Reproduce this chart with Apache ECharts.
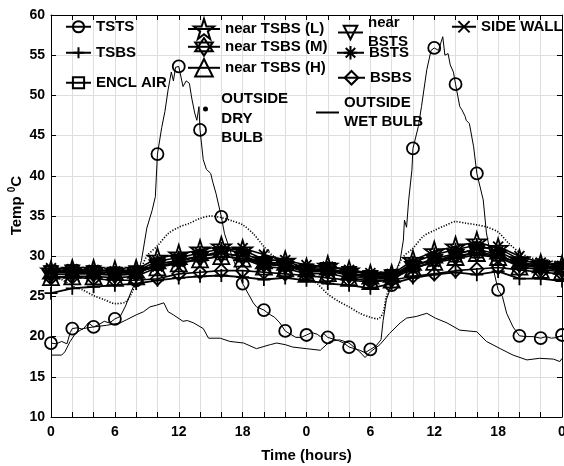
<!DOCTYPE html>
<html><head><meta charset="utf-8">
<script src="https://cdn.jsdelivr.net/npm/echarts@6/dist/echarts.min.js"></script>
<style>html,body{margin:0;padding:0;background:#fff}#c{width:564px;height:466px}</style>
</head><body><div id="c"></div>
<script>
// ---------- data ----------
const xTickLabels = ['0','6','12','18','0','6','12','18','0'];
const markerHours = [0,2,4,6,8,10,12,14,16,18,20,22,24,26,28,30,32,34,36,38,40,42,44,46,48];

const tstsHours = [0,0.5,1,1.5,1.8,2,2.5,3,3.5,4,
  4.5,5,5.5,6,6.5,7,7.5,8,8.5,9,
  9.5,9.8,10,10.4,10.7,11,11.3,11.5,11.7,12,
  12.4,12.7,13,13.2,13.5,13.7,13.9,14,14.3,14.6,
  15,15.2,15.5,16,16.3,16.6,17,17.5,18,18.5,
  19,19.3,20,20.5,21,21.5,22,22.5,23,23.5,
  24,24.5,25,25.3,25.6,26,26.5,27,27.5,28,
  28.5,29,29.5,30,30.5,31,31.2,31.5,32,32.5,
  32.8,33.1,33.2,33.4,33.6,33.9,34,34.5,34.8,35.3,
  35.7,36,36.4,36.8,37,37.3,37.5,37.8,38,38.4,
  38.6,38.9,39,39.3,39.7,40,40.6,40.9,41.5,42,
  42.4,42.8,43.4,44,44.6,45.3,46,46.5,47,47.6,
  48];
const tstsTemp = [19.2,19.1,19.4,19.1,20.5,21,21.1,20.9,21.7,21.2,
  21.5,21.9,21.7,22.2,22.5,23.8,25.5,27,29.5,33.5,
  35.7,37.4,42.7,46,48,50.7,52.9,51.8,53.5,53.6,
  51.1,51.8,51.5,49.8,47.8,46.9,48.6,45.7,42,40.8,
  40.3,39.2,37.8,34.9,32.8,31.6,30,28.3,26.6,25.4,
  24.2,23.7,23.3,22.8,22.4,21.7,20.7,20.3,19.9,19.9,
  20.2,20.5,20.3,20,20.4,19.9,19.7,19.5,19.2,18.7,
  18.5,18.3,18,18.4,18.8,19.6,22,24.6,26.4,28.5,
  29.5,32,34.5,33.6,37,40.7,43.4,46.1,48.6,53.2,
  55.6,55.9,55.6,57.3,55,55.2,53.8,52.9,51.4,48.6,
  48.2,47.4,46.9,46.5,43.6,40.3,37,32.9,28.7,25.8,
  25,22.9,21.2,20.1,20,20,19.8,20,19.8,19.9,
  20.2];

const wetHours = [0,1,1.3,1.8,2.3,3,4,5.2,6.5,7.1,
  8,8.7,9.3,9.9,10.6,11,11.5,12.4,12.8,13.4,
  14.3,14.8,15.9,16.8,18.1,19.3,20.6,21.2,22,22.7,
  24,25.3,26.2,27.1,28,29,29.5,30,30.9,31.8,
  32.8,33.4,34.3,35.3,36.1,37.2,38.4,40,40.9,42.2,
  43.4,44.7,45.9,47.2,47.8,48];
const wetTemp = [17.7,17.7,18.1,19.4,20.4,21,21.2,21.4,21.7,22.1,
  22.7,23.1,23.7,23.9,24.2,23.1,22.7,21.9,22.0,21.7,
  21,19.8,19.8,19.4,19.2,18.5,19,19.2,19,18.7,
  18.5,18.3,19.4,19.6,19.2,18.1,17.4,18.1,19,20.4,
  21.7,22.3,22.5,22.9,22.3,21.7,20.8,20.6,19.4,18.5,
  17.7,17.1,17.3,17.2,16.9,17.3];

const dryHours = [0,1,2,3,4,5,6,7,7.5,8,
  8.5,9,10,11,12,13,14,15,16,17,
  18,19,20,21,22,23,24,25,26,27,
  28,29,30,30.7,31.2,31.5,32,32.5,33,34,
  35,36,37,38,39,40,41,42,43,44,
  45,46,47,48];
const dryTemp = [27.6,27.1,26.3,25.8,25.1,24.6,24.1,24.3,25.2,26.8,
  28.5,30,31.3,32.8,33.6,34.1,34.7,35,34.8,34.4,
  33.9,32.8,31.2,29.9,29.3,28.6,27.6,26.6,25.3,24.4,
  23.7,22.9,22.4,22.2,23,25,26.6,28.3,29.8,31,
  32.5,33.2,33.8,34.3,34.1,33.9,33.6,33,31.6,30.5,
  29.8,29.6,29.4,29.3];

// values at markerHours
const tsbs      = [25.4,26.0,26.2,26.4,26.6,27.0,27.3,27.5,27.6,27.4,27.1,27.3,27.0,26.6,26.4,26.0,26.6,27.3,27.7,28.0,27.7,28.1,27.2,27.2,26.9];
const enclAir   = [28.1,28.2,28.1,27.9,28.0,29.0,29.5,30.0,30.3,30.0,29.2,28.9,28.3,28.4,27.9,27.5,27.6,28.8,29.5,30.0,30.5,30.1,29.1,28.7,28.5];
const nearTsbsL = [28.2,28.3,28.3,28.2,28.3,29.8,30.2,30.8,31.2,30.8,29.6,29.4,28.5,28.8,28.2,27.7,27.7,29.5,30.6,31.2,31.8,31.0,29.6,29.0,28.8];
const nearTsbsM = [27.7,27.8,27.8,27.6,27.8,29.0,29.5,30.0,30.4,30.0,29.0,28.8,28.0,28.2,27.6,27.1,27.3,28.8,29.7,30.3,30.9,30.2,29.0,28.5,28.3];
const nearTsbsH = [27.4,27.5,27.5,27.3,27.5,28.6,29.1,29.6,30.0,29.7,28.7,28.5,27.8,27.9,27.3,26.9,27.1,28.5,29.3,29.9,30.4,29.9,28.7,28.3,28.1];
const nearBsts  = [27.9,28.0,27.9,27.7,27.9,28.8,29.2,29.6,30.0,29.7,29.0,28.8,28.1,28.3,27.8,27.3,27.4,28.6,29.2,29.7,30.2,29.8,28.9,28.6,28.4];
const bsts      = [28.0,28.1,28.1,27.9,28.1,29.4,29.8,30.4,30.9,30.4,29.3,29.1,28.3,28.5,27.9,27.4,27.5,29.2,30.2,30.8,31.4,30.6,29.3,28.8,28.6];
const bsbs      = [27.3,27.4,27.2,27.0,27.0,27.2,27.8,28.0,28.2,28.2,28.0,27.8,27.6,27.3,27.0,26.8,27.0,27.5,27.8,28.2,28.4,28.6,28.3,28.0,27.8];
const sideWall  = [28.5,28.4,28.3,28.1,28.1,28.7,29.3,30.0,30.6,31.0,30.2,29.5,28.9,28.7,28.3,27.9,27.8,28.4,29.3,30.2,30.9,31.2,30.0,29.2,28.8];

// ---------- styling ----------
const FONT = '"Liberation Sans", Arial, Helvetica, sans-serif';
const SYM = {
  pent: 'path://M50 0 L61.8 36.2 L100 36.2 L69.1 58.8 L80.9 95.1 L50 72.7 L19.1 95.1 L30.9 58.8 L0 36.2 L38.2 36.2 Z',
  hexa: 'path://M50 0 L93.3 75 L6.7 75 Z M50 100 L6.7 25 L93.3 25 Z',
  tdown: 'path://M0 0 L100 0 L50 87 Z',
  ast: 'path://M50 0 L50 100 M0 50 L100 50 M15 15 L85 85 M85 15 L15 85',
  cross: 'path://M0 0 L100 100 M100 0 L0 100',
  plus: 'path://M50 0 L50 100 M0 50 L100 50'
};

function markerSeries(name, vals, symbol, size, width) {
  return {
    name, type: 'line', symbol, symbolSize: size, showAllSymbol: true,
    data: markerHours.map((h, i) => [h, vals[i]]),
    lineStyle: { color: '#000', width: width || 1.6 },
    itemStyle: { color: 'rgba(0,0,0,0)', borderColor: '#000', borderWidth: 1.8 },
    emphasis: { disabled: true }, z: 3
  };
}

const series = [
  { name: 'OUTSIDE WET BULB', type: 'line', symbol: 'none',
    data: wetHours.map((h, i) => [h, wetTemp[i]]),
    lineStyle: { color: '#000', width: 1 }, itemStyle: { color: '#000' }, z: 2 },
  { name: 'OUTSIDE DRY BULB', type: 'line', symbol: 'none', smooth: 0.3,
    data: dryHours.map((h, i) => [h, dryTemp[i]]),
    lineStyle: { color: '#000', width: 1.6, type: [1.2, 1.6] }, itemStyle: { color: '#000' }, z: 2 },
  markerSeries('TSBS', tsbs, SYM.plus, 13, 1.8),
  markerSeries('BSBS', bsbs, 'diamond', 13),
  markerSeries('near TSBS (H)', nearTsbsH, 'triangle', 16),
  markerSeries('near BSTS', nearBsts, SYM.tdown, 14),
  markerSeries('ENCL AIR', enclAir, 'rect', 11),
  markerSeries('near TSBS (M)', nearTsbsM, SYM.hexa, 16),
  markerSeries('BSTS', bsts, SYM.ast, 14),
  markerSeries('SIDE WALL', sideWall, SYM.cross, 10),
  markerSeries('near TSBS (L)', nearTsbsL, SYM.pent, 19),
  { name: 'TSTS', type: 'line', symbol: 'circle', symbolSize: 12, showAllSymbol: true,
    data: tstsHours.map((h, i) => ({ value: [h, tstsTemp[i]], symbol: markerHours.indexOf(h) >= 0 ? 'circle' : 'none' })),
    lineStyle: { color: '#000', width: 1 },
    itemStyle: { color: 'rgba(0,0,0,0)', borderColor: '#000', borderWidth: 1.8 }, z: 4 }
];

const legendText = {
  'near BSTS': 'near\nBSTS',
  'OUTSIDE DRY BULB': '\n  OUTSIDE\n  DRY\n  BULB',
  'OUTSIDE WET BULB': 'OUTSIDE\nWET BULB'
};
function lg(name, left, top, iw, ih, extra) {
  const o = {
    left, top, padding: 0, orient: 'vertical', selectedMode: false,
    itemWidth: iw, itemHeight: ih, data: [name],
    formatter: n => legendText[n] || n,
    textStyle: { fontFamily: FONT, fontWeight: 'bold', fontSize: 15, color: '#000', lineHeight: 19.5 }
  };
  return Object.assign(o, extra || {});
}
const legends = [
  lg('TSTS', 65, 17, 25, 14),
  lg('TSBS', 65, 43, 25, 14),
  lg('ENCL AIR', 65, 73, 25, 14),
  lg('near TSBS (L)', 187, 18, 32, 25),
  lg('near TSBS (M)', 187, 37, 32, 22),
  lg('near TSBS (H)', 187, 58, 32, 22),
  lg('OUTSIDE DRY BULB', 203, 70, 5, 5, { data: [{ name: 'OUTSIDE DRY BULB', icon: 'circle' }] }),
  lg('near BSTS', 337, 13, 25, 17),
  lg('BSTS', 336, 43, 27, 17),
  lg('BSBS', 337, 68, 27, 17),
  lg('OUTSIDE WET BULB', 316, 93, 23, 2, { data: [{ name: 'OUTSIDE WET BULB', icon: 'rect' }] }),
  lg('SIDE WALL', 451, 17, 24, 14)
];

const axisLineStyle = { color: '#000', width: 1 };
const chart = echarts.init(document.getElementById('c'), null, { renderer: 'canvas' });
chart.setOption({
  animation: false,
  backgroundColor: '#fff',
  grid: { left: 51, right: 2, top: 15, bottom: 49, containLabel: false, outerBoundsMode: 'none' },
  legend: legends,
  xAxis: [
    { type: 'value', min: 0, max: 48, interval: 2, position: 'bottom',
      axisLine: { show: true, onZero: false, lineStyle: axisLineStyle },
      axisTick: { show: true, inside: true, length: 5, lineStyle: axisLineStyle },
      axisLabel: { formatter: v => (v % 6 === 0 ? xTickLabels[v / 6] : ''), fontFamily: FONT, fontWeight: 'bold', fontSize: 14, color: '#000', margin: 8, hideOverlap: false },
      splitLine: { show: true, lineStyle: { color: '#dedede', width: 1 } },
      name: 'Time (hours)', nameLocation: 'middle', nameGap: 31, nameMoveOverlap: false,
      nameTextStyle: { fontFamily: FONT, fontWeight: 'bold', fontSize: 15, color: '#000' } },
    { type: 'value', min: 0, max: 48, interval: 2, position: 'top',
      axisLine: { show: true, onZero: false, lineStyle: axisLineStyle },
      axisTick: { show: true, inside: true, length: 5, lineStyle: axisLineStyle },
      axisLabel: { show: false }, splitLine: { show: false } }
  ],
  yAxis: [
    { type: 'value', min: 10, max: 60, interval: 5, position: 'left',
      axisLine: { show: true, onZero: false, lineStyle: axisLineStyle },
      axisTick: { show: true, inside: true, length: 5, lineStyle: axisLineStyle },
      axisLabel: { fontFamily: FONT, fontWeight: 'bold', fontSize: 14, color: '#000', margin: 6 },
      splitLine: { show: true, lineStyle: { color: '#dedede', width: 1 } },
      name: '{t|     Temp }{s|0}{t|C}', nameLocation: 'middle', nameGap: 24, nameMoveOverlap: false,
      nameTextStyle: { rich: {
        t: { fontFamily: FONT, fontWeight: 'bold', fontSize: 15, color: '#000', lineHeight: 20, verticalAlign: 'middle' },
        s: { fontFamily: FONT, fontWeight: 'bold', fontSize: 10, color: '#000', lineHeight: 20, verticalAlign: 'top' }
      } } },
    { type: 'value', min: 10, max: 60, interval: 5, position: 'right',
      axisLine: { show: true, onZero: false, lineStyle: axisLineStyle },
      axisTick: { show: true, inside: true, length: 5, lineStyle: axisLineStyle },
      axisLabel: { show: false }, splitLine: { show: false } }
  ],
  series
});
</script></body></html>
